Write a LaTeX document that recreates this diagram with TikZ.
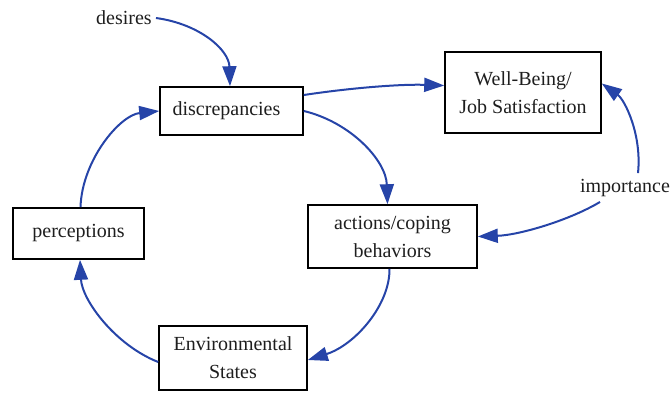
\documentclass[tikz,border=0pt]{standalone}
\usepackage{fontspec}
\setmainfont{Liberation Serif}
\usetikzlibrary{arrows.meta,calc}
\definecolor{arrowblue}{RGB}{38,68,168}
\definecolor{txt}{RGB}{30,30,30}
\begin{document}
\begin{tikzpicture}[x=1pt,y=-1pt,
  box/.style={draw=black,line width=1.6pt,inner sep=0pt,align=center,text=txt,
    font=\rmfamily\fontsize{20}{28}\selectfont},
  lbl/.style={inner sep=0pt,text=txt,font=\rmfamily\fontsize{20}{28}\selectfont},
  conn/.style={draw=arrowblue,line width=2pt,-{Triangle[length=20pt,width=14pt]}}]
\useasboundingbox (0,0) rectangle (670,392);
\node[box,minimum width=143pt,minimum height=48pt] (disc) at (231.5,111) {\hspace*{-10pt}discrepancies};
\node[box,minimum width=156pt,minimum height=81pt] (wb) at (523,92.5) {Well-Being/\\Job Satisfaction};
\node[box,minimum width=131pt,minimum height=51pt] (perc) at (78.5,233.5) {perceptions};
\node[box,minimum width=148pt,minimum height=64pt] (env) at (233,358) {Environmental\\States};
\node[box,minimum width=169pt,minimum height=63pt] (act) at (392.5,236.5) {actions/coping\\behaviors};
\node[lbl] (des) at (124,18) {desires};
\node[lbl] (imp) at (625,188) {importance};

\draw[conn] ([xshift=4pt]des.east) .. controls (200,24) and (229,50) .. ([xshift=-1.5pt]disc.north);
\draw[conn] ([yshift=16pt]disc.east) .. controls (350,88) and (400,84) .. ([yshift=7pt]wb.west);
\draw[conn] (disc.east) .. controls (350,122) and (386,160) .. ([xshift=-5pt]act.north);
\draw[conn] ([xshift=13pt,yshift=6pt]imp.north) .. controls (642,135) and (625,100) .. ([yshift=9pt]wb.east);
\draw[conn] ([xshift=-25pt,yshift=-5pt]imp.south) .. controls (570,220) and (520,235) .. (act.east);
\draw[conn] ([xshift=-3pt]act.south) .. controls (390,305) and (355,345) .. ([yshift=-2pt]env.east);
\draw[conn] ([yshift=-4pt]env.west) .. controls (115,345) and (82,300) .. ([xshift=1.5pt]perc.north |- perc.south);
\draw[conn] ([xshift=2pt]perc.north) .. controls (82,160) and (120,115) .. (disc.west);
\end{tikzpicture}
\end{document}
